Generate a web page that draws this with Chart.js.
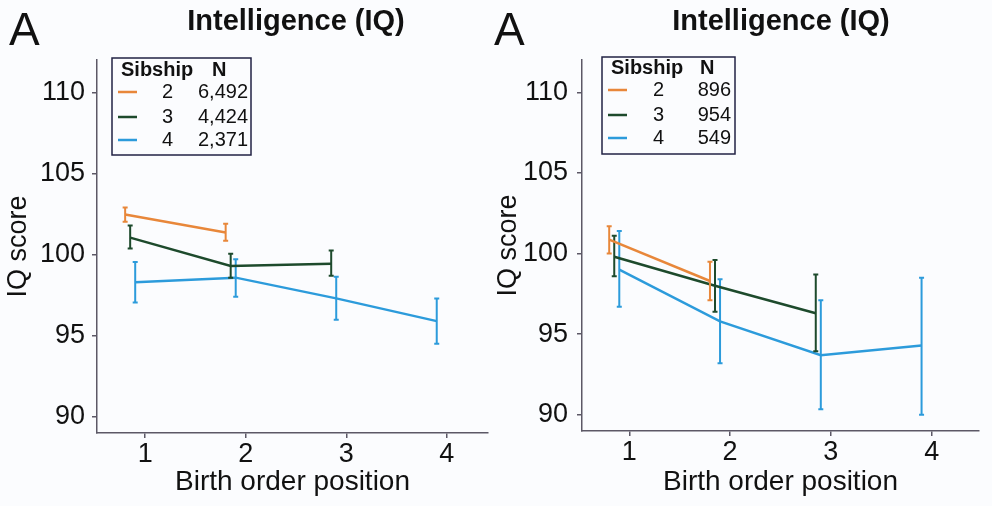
<!DOCTYPE html>
<html>
<head>
<meta charset="utf-8">
<script src="https://cdn.jsdelivr.net/npm/chart.js@4"></script>
<style>
  body { margin: 0; background: #fbfcfe; }
  #wrap { position: relative; width: 992px; height: 506px; overflow: hidden; }
  canvas { position: absolute; top: 0; }
</style>
</head>
<body>
<div id="wrap">
  <canvas id="left" width="496" height="506" style="left:0"></canvas>
  <canvas id="right" width="506" height="506" style="left:486px"></canvas>
</div>
<script>
// data
const birthOrder = [1, 2, 3, 4];
const sibships = ['2', '3', '4'];
const colors = ['#e8873a', '#1d4a2c', '#2c9bdb'];
const dodge = [-0.2, -0.15, -0.1];

// left panel
const nLeft = ['6,492', '4,424', '2,371'];
const meanLeft2 = [102.47, 101.36];
const loLeft2 = [102.03, 100.86];
const hiLeft2 = [102.9, 101.9];
const meanLeft3 = [101.05, 99.3, 99.44];
const loLeft3 = [100.37, 98.58, 98.7];
const hiLeft3 = [101.8, 100.06, 100.25];
const meanLeft4 = [98.3, 98.58, 97.3, 95.9];
const loLeft4 = [97.04, 97.4, 95.99, 94.5];
const hiLeft4 = [99.55, 99.72, 98.64, 97.3];

// right panel
const nRight = ['896', '954', '549'];
const meanRight2 = [100.86, 98.3];
const loRight2 = [100.0, 97.1];
const hiRight2 = [101.7, 99.5];
const meanRight3 = [99.8, 98.0, 96.3];
const loRight3 = [98.6, 96.4, 93.95];
const hiRight3 = [101.1, 99.6, 98.7];
const meanRight4 = [99.0, 95.8, 93.7, 94.3];
const loRight4 = [96.7, 93.2, 90.35, 90.0];
const hiRight4 = [101.4, 98.4, 97.1, 98.5];

const yTicks = [90, 95, 100, 105, 110];
const FONT = "'Liberation Sans', Arial, Helvetica, sans-serif";
const axisColor = '#5c5866';

const errorBars = {
  id: 'errorBars',
  afterDatasetDraw(chart, args) {
    const ds = chart.data.datasets[args.index];
    const {ctx, scales: {x, y}} = chart;
    ctx.save();
    ctx.strokeStyle = ds.borderColor;
    ctx.lineWidth = 2;
    ds.data.forEach((p, j) => {
      const px = x.getPixelForValue(p.x);
      const y1 = y.getPixelForValue(ds.errLo[j]);
      const y2 = y.getPixelForValue(ds.errHi[j]);
      ctx.beginPath();
      ctx.moveTo(px, y1); ctx.lineTo(px, y2);
      ctx.moveTo(px - 2.5, y1); ctx.lineTo(px + 2.5, y1);
      ctx.moveTo(px - 2.5, y2); ctx.lineTo(px + 2.5, y2);
      ctx.stroke();
    });
    ctx.restore();
  }
};

const decorations = {
  id: 'decorations',
  afterDraw(chart, args, o) {
    const ctx = chart.ctx;
    ctx.save();
    ctx.fillStyle = '#111';
    ctx.textBaseline = 'alphabetic';
    ctx.font = '46px ' + FONT;
    ctx.textAlign = 'left';
    ctx.fillText('A', o.letterX, 45);
    ctx.font = 'bold 29px ' + FONT;
    ctx.textAlign = 'center';
    ctx.textBaseline = 'middle';
    ctx.fillText('Intelligence (IQ)', o.titleX, 22);

    const L = o.legend;
    ctx.strokeStyle = '#222244';
    ctx.lineWidth = 1.5;
    ctx.strokeRect(L.x, L.y, L.w, L.h);
    ctx.font = 'bold 20px ' + FONT;
    ctx.textAlign = 'left';
    ctx.fillText('Sibship', L.x + L.headX, L.y + L.headY);
    ctx.fillText('N', L.x + L.nHeadX, L.y + L.headY);
    ctx.font = '20px ' + FONT;
    o.n.forEach((n, i) => {
      const ry = L.y + L.rowY[i];
      ctx.strokeStyle = colors[i];
      ctx.lineWidth = 2.5;
      ctx.beginPath();
      ctx.moveTo(L.x + L.lineX1, ry); ctx.lineTo(L.x + L.lineX2, ry);
      ctx.stroke();
      ctx.textAlign = 'right';
      ctx.fillText(sibships[i], L.x + L.sibRight, ry);
      ctx.fillText(n, L.x + L.nRight, ry);
    });
    ctx.restore();
  }
};

function series(i, means, lo, hi) {
  return {
    label: sibships[i],
    data: means.map((m, j) => ({x: birthOrder[j] + dodge[i], y: m})),
    errLo: lo,
    errHi: hi,
    borderColor: colors[i],
    borderWidth: 2.5,
    pointRadius: 0,
    fill: false,
    tension: 0
  };
}

function makePanel(id, datasets, p) {
  return new Chart(document.getElementById(id), {
    type: 'line',
    data: {datasets: datasets},
    plugins: [errorBars, decorations],
    options: {
      responsive: false,
      animation: false,
      devicePixelRatio: 1,
      layout: {padding: {left: 0, top: 60, right: p.padRight, bottom: 0}},
      plugins: {
        legend: {display: false},
        tooltip: {enabled: false},
        decorations: p.deco
      },
      scales: {
        x: {
          type: 'linear',
          min: p.xMin,
          max: p.xMax,
          afterBuildTicks: s => { s.ticks = birthOrder.map(v => ({value: v})); },
          afterFit: s => { s.height = p.xHeight; },
          ticks: {font: {family: FONT, size: 27}, color: '#111', padding: 0, maxRotation: 0},
          grid: {drawOnChartArea: false, drawTicks: true, tickLength: 5, color: axisColor, lineWidth: 1.5},
          border: {display: true, color: axisColor, width: 1.5},
          title: {display: true, text: 'Birth order position', color: '#111',
                  font: {family: FONT, size: 28}, padding: {top: 0, bottom: 7}}
        },
        y: {
          min: 89,
          max: 112,
          afterBuildTicks: s => { s.ticks = yTicks.map(v => ({value: v})); },
          afterFit: s => { s.width = p.yWidth; },
          ticks: {font: {family: FONT, size: 27}, color: '#111', padding: p.yPad},
          grid: {drawOnChartArea: false, drawTicks: true, tickLength: 5, color: axisColor, lineWidth: 1.5},
          border: {display: true, color: axisColor, width: 1.5},
          title: {display: true, text: 'IQ score', color: '#111',
                  font: {family: FONT, size: 27}, padding: {top: p.yTitlePad, bottom: 0}}
        }
      }
    }
  });
}

makePanel('left', [
  series(0, meanLeft2, loLeft2, hiLeft2),
  series(1, meanLeft3, loLeft3, hiLeft3),
  series(2, meanLeft4, loLeft4, hiLeft4)
], {
  padRight: 8, xMin: 0.52, xMax: 4.41, xHeight: 73, yWidth: 97, yPad: 7, yTitlePad: 2,
  deco: {
    letterX: 9, titleX: 296, n: nLeft,
    legend: {x: 112, y: 58, w: 139, h: 97, headX: 9, nHeadX: 100, headY: 12,
             rowY: [34, 59, 82], lineX1: 6, lineX2: 25, sibRight: 61, nRight: 136}
  }
});

makePanel('right', [
  series(0, meanRight2, loRight2, hiRight2),
  series(1, meanRight3, loRight3, hiRight3),
  series(2, meanRight4, loRight4, hiRight4)
], {
  padRight: 13, xMin: 0.53, xMax: 4.47, xHeight: 75, yWidth: 96, yPad: 9, yTitlePad: 6,
  deco: {
    letterX: 8, titleX: 295, n: nRight,
    legend: {x: 116, y: 57, w: 133, h: 97, headX: 9, nHeadX: 98, headY: 11,
             rowY: [33, 58, 81], lineX1: 6, lineX2: 25, sibRight: 62, nRight: 129}
  }
});
</script>
</body>
</html>
